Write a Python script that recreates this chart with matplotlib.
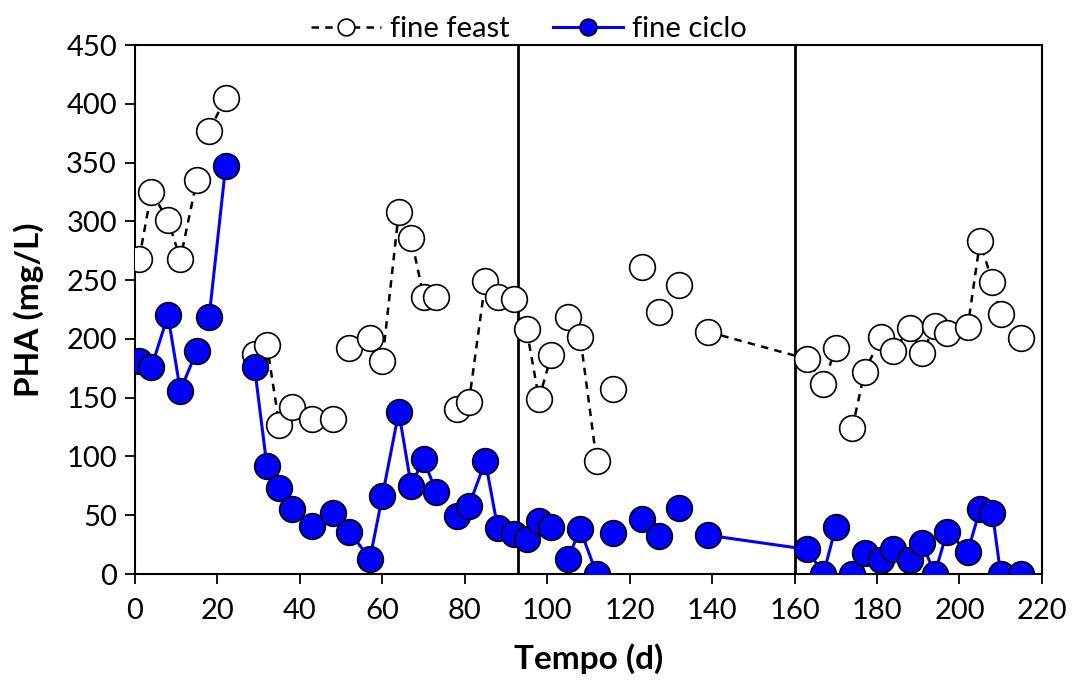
import numpy as np
import matplotlib
matplotlib.use("Agg")
import matplotlib.pyplot as plt

nan = np.nan
# days (NaN rows mark breaks in the lines)
days = [1, 4, 8, 11, 15, 16, 18, 22, 25, 29, 32, 35, 38, 43, 48, 50, 52, 57, 60, 64, 67, 70, 73, 75,
        78, 81, 85, 88, 92, 95, 98, 101, 103, 105, 108, 112, 114, 116, 120, 123, 125, 127, 130, 132, 135,
        139, 163, 167, 170, 172, 174, 177, 181, 184, 188, 191, 194, 197, 202, 205, 208, 210, 212, 215]
fine_feast = [268, 325, 301, 268, 335, nan, 377, 405, nan, 187, 195, 127, 142, 132, 132, nan, 192, 201, 181, 308, 286, 236, 236, nan,
              140, 146, 249, 236, 234, 208, 149, 186, nan, 219, 202, 96, nan, 157, nan, 261, nan, 223, nan, 246, nan,
              206, 183, 162, 192, nan, 124, 172, 202, 190, 209, 188, 211, 205, 210, 283, 248, 221, nan, 201]
fine_ciclo = [181, 176, 220, 156, 190, nan, 219, 347, nan, 176, 92, 73, 55, 41, 52, nan, 36, 13, 66, 138, 75, 98, 70, nan,
              49, 58, 96, 39, 34, 30, 45, 40, nan, 13, 38, 0, nan, 35, nan, 47, nan, 32, nan, 56, nan,
              33, 21, 0, 40, nan, 0, 18, 12, 21, 12, 26, 0, 36, 19, 55, 52, 0, nan, 0]
phase_bounds = [93, 160]

plt.rcParams['font.family'] = ['Lato', 'DejaVu Sans']
fig = plt.figure(figsize=(10.73, 6.84), dpi=100)
ax = fig.add_axes([0.1258, 0.1608, 0.8452, 0.7734])

ms = 18.5
ax.plot(days, fine_feast, linestyle=(0, (3, 2.5)), color='black', lw=1.8,
        marker='o', markersize=ms, markerfacecolor='white', markeredgecolor='black',
        markeredgewidth=1.2, label='fine feast', zorder=3)
ax.plot(days, fine_ciclo, linestyle='-', color='#0000FF', lw=2.2,
        marker='o', markersize=ms, markerfacecolor='#0000FF', markeredgecolor='black',
        markeredgewidth=1.2, label='fine ciclo', zorder=4)

for b in phase_bounds:
    ax.axvline(b, color='black', lw=2, zorder=2)

ax.set_xlim(0, 220)
ax.set_ylim(0, 450)
ax.set_xticks(np.arange(0, 221, 20))
ax.set_yticks(np.arange(0, 451, 50))
ax.tick_params(direction='out', length=7, width=1.3, labelsize=21)
ax.tick_params(axis='x', pad=10)
ax.tick_params(axis='y', pad=6)
for s in ax.spines.values():
    s.set_linewidth(1.5)
ax.set_xlabel('Tempo (d)', fontsize=24, fontweight='bold', labelpad=14)
ax.set_ylabel('PHA (mg/L)', fontsize=24, fontweight='bold', labelpad=16)

leg = ax.legend(loc='center', bbox_to_anchor=(0.434, 1.03), ncol=2, frameon=False,
                markerscale=0.65, handlelength=2.4, columnspacing=1.5,
                handletextpad=0.3, borderaxespad=0.0, prop={'size': 21})

fig.savefig('out.png', dpi=100)
